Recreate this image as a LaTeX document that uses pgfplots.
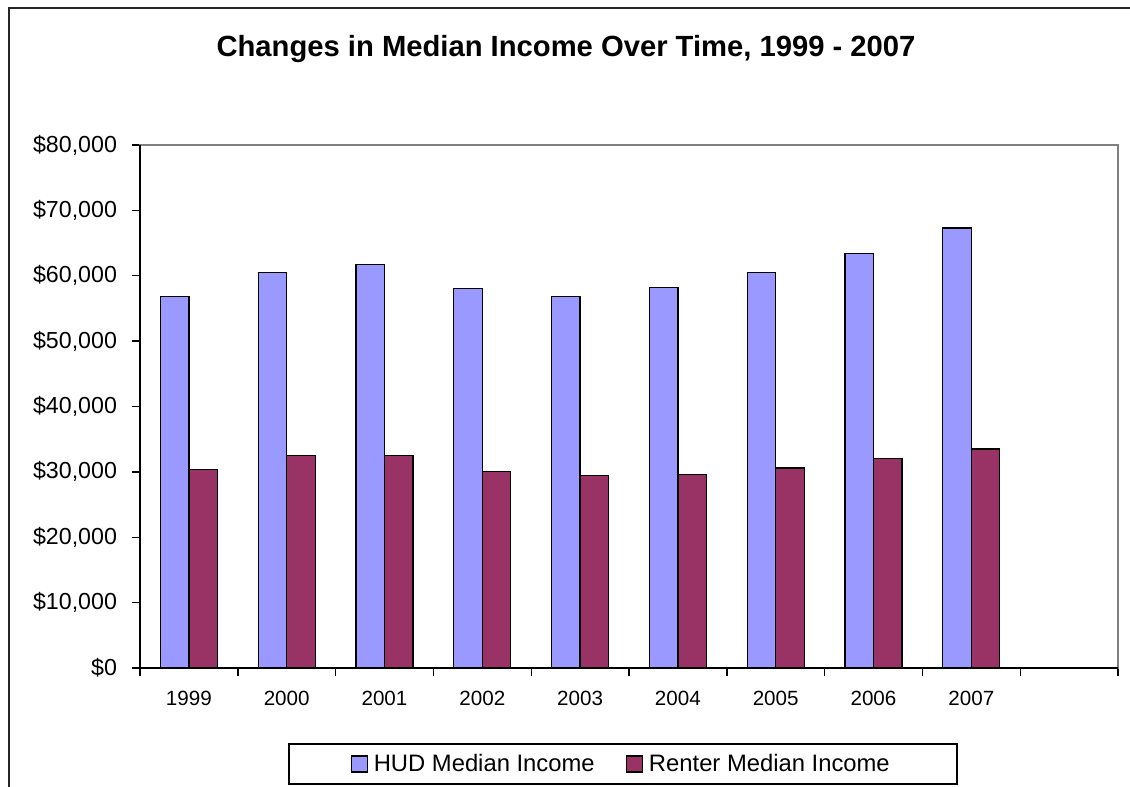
\documentclass[border=0pt]{standalone}
\usepackage{fontspec}
\setmainfont{Liberation Sans}
\usepackage{pgfplots}
\pgfplotsset{compat=1.18}
\definecolor{hud}{RGB}{153,153,255}
\definecolor{renter}{RGB}{153,51,102}
\begin{document}
\begin{tikzpicture}[x=0.5pt,y=0.5pt]
\clip (0,0) rectangle (1130,-787);
\fill[white] (0,0) rectangle (1130,-787);
% outer chart frame, cut off on the right and at the bottom
\draw[line width=1pt, black!85] (8.5,-7.5) rectangle (1200,-850);
\node[font=\bfseries\fontsize{14.6}{16}\selectfont] at (566,-49) {Changes in Median Income Over Time, 1999 - 2007};
\begin{axis}[
    at={(70pt,-334pt)}, anchor=south west,
    scale only axis, width=489pt, height=261.5pt,
    xmin=-0.5, xmax=9.5, ymin=0, ymax=80000,
    ybar=0pt, bar width=14.25pt,
    xtick={0,...,8},
    xticklabels={1999,2000,2001,2002,2003,2004,2005,2006,2007},
    minor xtick={-0.5,0.5,...,9.5},
    major x tick style={draw=none},
    xtick pos=bottom, ytick pos=left,
    ytick={0,10000,...,80000},
    scaled y ticks=false,
    yticklabel={\$\pgfmathprintnumber{\tick}},
    /pgf/number format/assume math mode=true,
    /pgf/number format/1000 sep={,},
    tick align=outside,
    major tick length=4pt, minor tick length=4pt,
    tick style={black, line width=0.7pt},
    y tick label style={font=\fontsize{11.6}{13}\selectfont, xshift=-4pt},
    x tick label style={font=\fontsize{10.3}{12}\selectfont, yshift=-4pt},
    axis line style={draw=black!50, line width=0.8pt},
    every axis plot/.append style={draw=black, line width=0.65pt},
    legend image code/.code={\draw[#1, line width=0.65pt] (0pt,-4pt) rectangle (8pt,4pt);},
    legend style={at={(0.494,0)}, anchor=north, yshift=-37.5pt,
        legend columns=-1, draw=black, line width=0.75pt,
        font=\fontsize{11.9}{13}\selectfont,
        inner xsep=30.7pt, inner ysep=3pt,
        /tikz/every even column/.append style={column sep=12.5pt},
        nodes={inner xsep=3pt}},
    clip=false,
]
\addplot[fill=hud] coordinates {
    (0,56800) (1,60500) (2,61700) (3,58000) (4,56800)
    (5,58200) (6,60500) (7,63400) (8,67300)
};
\addplot[fill=renter] coordinates {
    (0,30400) (1,32500) (2,32500) (3,30100) (4,29400)
    (5,29600) (6,30600) (7,32100) (8,33500)
};
\legend{HUD Median Income, Renter Median Income}
\draw[black, line width=0.8pt] (rel axis cs:0,1) -- (rel axis cs:0,0) -- (rel axis cs:1,0);
\end{axis}
\end{tikzpicture}
\end{document}
